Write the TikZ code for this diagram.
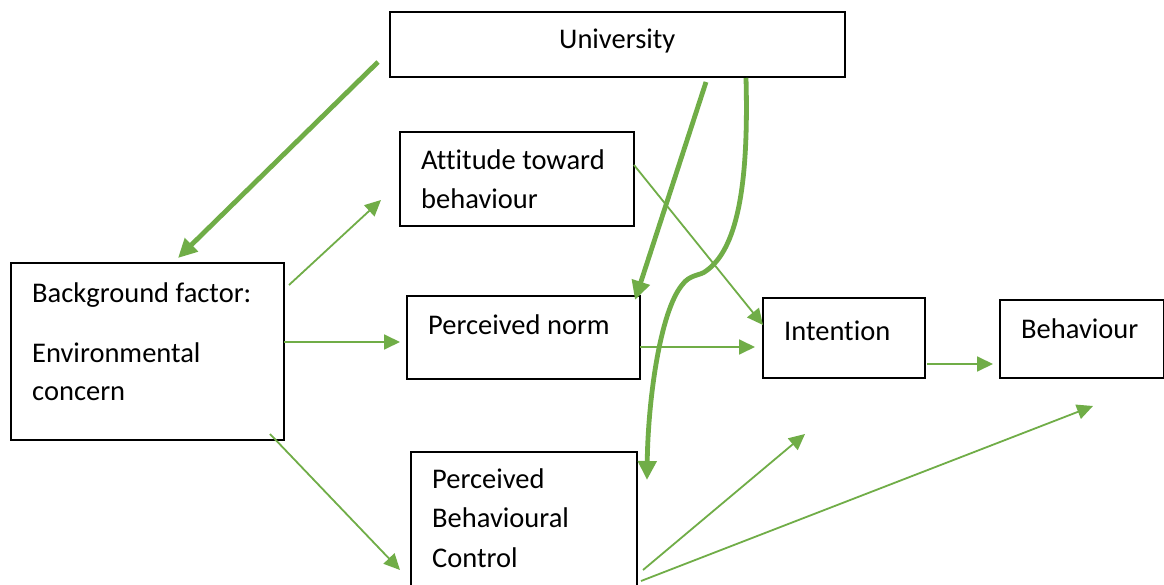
\documentclass[tikz,border=0pt]{standalone}
\usepackage{fontspec}
\setmainfont{Carlito}[Ligatures=NoCommon]
\usetikzlibrary{arrows.meta}
\definecolor{officegreen}{HTML}{70AD47}
\begin{document}
\begin{tikzpicture}[x=1pt,y=-1pt,
  box/.style={draw=black,line width=1.8pt,minimum width=#1,inner sep=0pt},
  txt/.style={inner sep=0pt,anchor=base west,font=\fontsize{28.5}{38.5}\selectfont},
  thin/.style={draw=officegreen,line width=1.8pt,-{Triangle[length=16pt,width=15pt]}},
  thick/.style={draw=officegreen,line width=4.8pt,-{Triangle[length=19pt,width=18pt]}}]
\useasboundingbox[fill=white] (0,0) rectangle (1164,585);
% boxes
\node[box=455pt,minimum height=65pt] (uni) at (617.5,44.5) {};
\node[box=234pt,minimum height=94pt] (att) at (517,179) {};
\node[box=273pt,minimum height=177pt] (bg) at (147.5,351.5) {};
\node[box=233pt,minimum height=83pt] (norm) at (523.5,337.5) {};
\node[box=162pt,minimum height=80pt] (int) at (844,338) {};
\node[box=164pt,minimum height=78pt] (beh) at (1082,339) {};
\node[box=226pt,minimum height=148pt] (pbc) at (524,526) {};
% texts
\node[txt] (tuni) at (559,49) {University};
\node[txt] (tatt1) at (421,170) {Attitude toward};
\node[txt] (tatt2) at (421,209) {behaviour};
\node[txt] (tbg1) at (32,302) {Background factor:};
\node[txt] (tbg2) at (32,362) {Environmental};
\node[txt] (tbg3) at (32,400) {concern};
\node[txt] (tnorm) at (428,334) {Perceived norm};
\node[txt] (tint) at (784,340) {Intention};
\node[txt] (tbeh) at (1021,338) {Behaviour};
\node[txt] (tpbc1) at (432,488) {Perceived};
\node[txt] (tpbc2) at (432,527) {Behavioural};
\node[txt] (tpbc3) at (432,567) {Control};
% connector end points
\coordinate (uA) at (378,62);   \coordinate (bgT) at (178,258);
\coordinate (bgA) at (289,285); \coordinate (attL) at (381,200);
\coordinate (bgB) at (284,342); \coordinate (normL) at (400,342);
\coordinate (bgC) at (270,434); \coordinate (pbcL) at (400,570);
\coordinate (attR) at (634,165); \coordinate (intTL) at (763,325);
\coordinate (normR) at (640,347); \coordinate (intL) at (755,347);
\coordinate (uB) at (706,82);   \coordinate (normT) at (635,300);
\coordinate (uC) at (746,78);   \coordinate (pbcT) at (647,480);
\coordinate (pbcA) at (643,570); \coordinate (intB) at (805,434);
\coordinate (pbcB) at (641,581); \coordinate (behB) at (1093,406);
\coordinate (intR) at (927,364); \coordinate (behL) at (993,364);
% connectors
\draw[thick] (uA) -- (bgT);
\draw[thin] (bgA) -- (attL);
\draw[thin] (bgB) -- (normL);
\draw[thin] (bgC) -- (pbcL);
\draw[thin] (attR) -- (intTL);
\draw[thin] (normR) -- (intL);
\draw[thick] (uB) -- (normT);
\draw[thick] (uC) .. controls (749,190) and (736,250) .. (706,271)
  .. controls (700,276) and (690,274) .. (682,285)
  .. controls (660,312) and (648,400) .. (pbcT);
\draw[thin] (pbcA) -- (intB);
\draw[thin] (pbcB) -- (behB);
\draw[thin] (intR) -- (behL);
\end{tikzpicture}
\end{document}
